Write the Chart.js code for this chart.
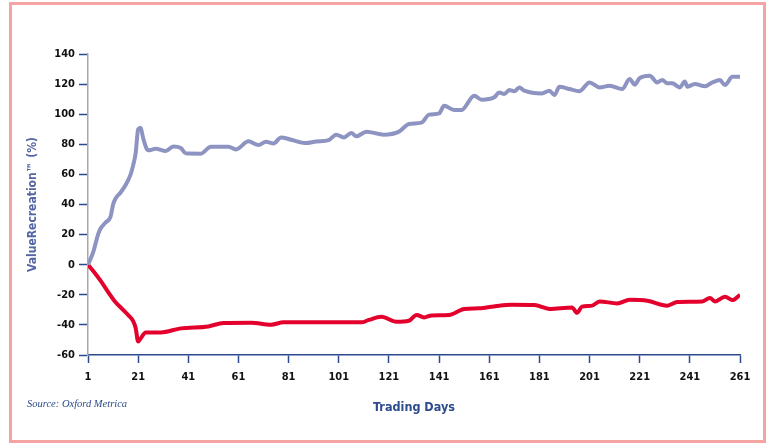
<!DOCTYPE html>
<html>
<head>
<meta charset="utf-8">
<script src="https://cdn.jsdelivr.net/npm/chart.js@4/dist/chart.umd.min.js"></script>
<style>
  html, body { margin: 0; padding: 0; background: #ffffff; }
  #wrap { position: relative; width: 766px; height: 445px; overflow: hidden; }
  #c { position: absolute; left: 0; top: 0; }
  #frame { position: absolute; left: 9px; top: 2px; width: 751px; height: 435px; border: 3px solid #f5a3a3; pointer-events: none; }
  #source { position: absolute; left: 27px; top: 398px; font-family: 'Liberation Serif', 'DejaVu Serif', serif; font-style: italic; font-size: 10.5px; color: #2b4b8c; }
</style>
</head>
<body>
<div id="wrap">
  <canvas id="c" width="766" height="445"></canvas>
  <div id="frame"></div>
  <div id="source">Source: Oxford Metrica</div>
</div>
<script>
// Series: trading day and ValueRecreation (%)
const blueDays   = [1,3,5,6,8,10,11,12,14,16,18,19,20,21,22,23,25,28,32,35,38,40,46,50,57,60,65,69,72,75,78,82,88,92,97,100,103,106,108,112,119,125,129,134,137,141,143,147,150,155,158,163,165,167,169,171,173,175,182,185,187,189,193,197,201,205,209,214,217,219,221,225,228,230,232,234,237,239,240,243,247,250,253,255,258,261];
const blueValues = [0,8,20,24,28,32,40,44,48,53,60,66,74,90,91,84,76,77,75.5,78.5,77.5,74,73.8,78.4,78.4,76.6,82,79.5,81.7,80.6,84.6,83,80.8,81.9,82.8,86.4,84.6,87.5,85.3,88.4,86.4,88.4,93.5,94.4,99.7,100.5,105.6,102.8,102.8,112.3,109.6,111.2,114.5,113.4,116.1,115.2,117.8,115.6,113.8,115.6,112.7,118.3,116.7,115.3,121.1,117.8,118.9,116.7,123.4,119.6,124,125.6,121.1,122.7,120.5,120.5,117.8,121.8,118.3,120,118.5,121.1,122.7,119.4,124.9,124.9];

const redDays   = [1,3,6,9,12,15,17,19,20,21,22,24,30,38,49,55,66,74,79,110,113,118,124,129,132,135,138,145,151,157,164,170,179,185,194,196,198,202,205,212,217,224,232,236,246,249,251,255,258,261];
const redValues = [0,-4,-10.6,-18,-25,-30,-33.4,-37.5,-42,-51,-49,-45,-45,-42.3,-41,-38.7,-38.5,-39.9,-38.3,-38.3,-36.7,-34.6,-37.9,-37.2,-33.4,-35,-33.7,-33.4,-29.4,-29,-27.4,-26.6,-26.8,-29.4,-28.4,-32,-27.9,-27.2,-24.4,-25.7,-23.3,-23.9,-27.2,-24.8,-24.4,-22.1,-24.4,-21.3,-23.5,-20];

const xTickValues = [1,21,41,61,81,101,121,141,161,181,201,221,241,261];
const yTickValues = [-60,-40,-20,0,20,40,60,80,100,120,140];

const toPoints = (xs, ys) => xs.map((x, i) => ({ x: x, y: ys[i] }));

const narrow = "'Liberation Sans Narrow', 'DejaVu Sans Condensed', 'Liberation Sans', sans-serif";
const tickFont = { family: narrow, size: 11, weight: 'bold' };

new Chart(document.getElementById('c'), {
  type: 'line',
  data: {
    datasets: [
      { data: toPoints(blueDays, blueValues), borderColor: '#8e94c2', borderWidth: 4, pointRadius: 0, cubicInterpolationMode: 'monotone', fill: false },
      { data: toPoints(redDays, redValues), borderColor: '#e3002c', borderWidth: 4, pointRadius: 0, cubicInterpolationMode: 'monotone', fill: false }
    ]
  },
  options: {
    responsive: false,
    animation: false,
    events: [],
    layout: { padding: { left: 0, right: 26, top: 54, bottom: 0 } },
    plugins: { legend: { display: false }, tooltip: { enabled: false } },
    scales: {
      x: {
        type: 'linear',
        min: 1, max: 261,
        afterFit: s => { s.height = 90; },
        afterBuildTicks: s => { s.ticks = xTickValues.map(v => ({ value: v })); },
        grid: { drawOnChartArea: false, drawTicks: true, tickLength: 8, tickColor: '#2b4b8c', tickWidth: 1.5 },
        border: { display: true, color: '#2b4b8c', width: 1.5 },
        ticks: { color: '#111111', font: tickFont, padding: 8, maxRotation: 0, autoSkip: false },
        title: { display: true, text: 'Trading Days', color: '#2b4b8c', font: { family: narrow, size: 12.5, weight: 'bold' }, padding: { top: 0, bottom: 30 } }
      },
      y: {
        type: 'linear',
        min: -60, max: 140,
        afterFit: s => { s.width = 88; },
        afterBuildTicks: s => { s.ticks = yTickValues.map(v => ({ value: v })); },
        grid: { drawOnChartArea: false, drawTicks: true, tickLength: 9, tickColor: '#2b4b8c', tickWidth: 1.5 },
        border: { display: true, color: '#a8a8a8', width: 1.5 },
        ticks: { color: '#111111', font: tickFont, padding: 4 },
        title: { display: true, text: 'ValueRecreation™ (%)', color: '#5366a3', font: { family: narrow, size: 12, weight: 'bold' }, padding: { top: 26, bottom: 0 } }
      }
    }
  }
});
</script>
</body>
</html>
